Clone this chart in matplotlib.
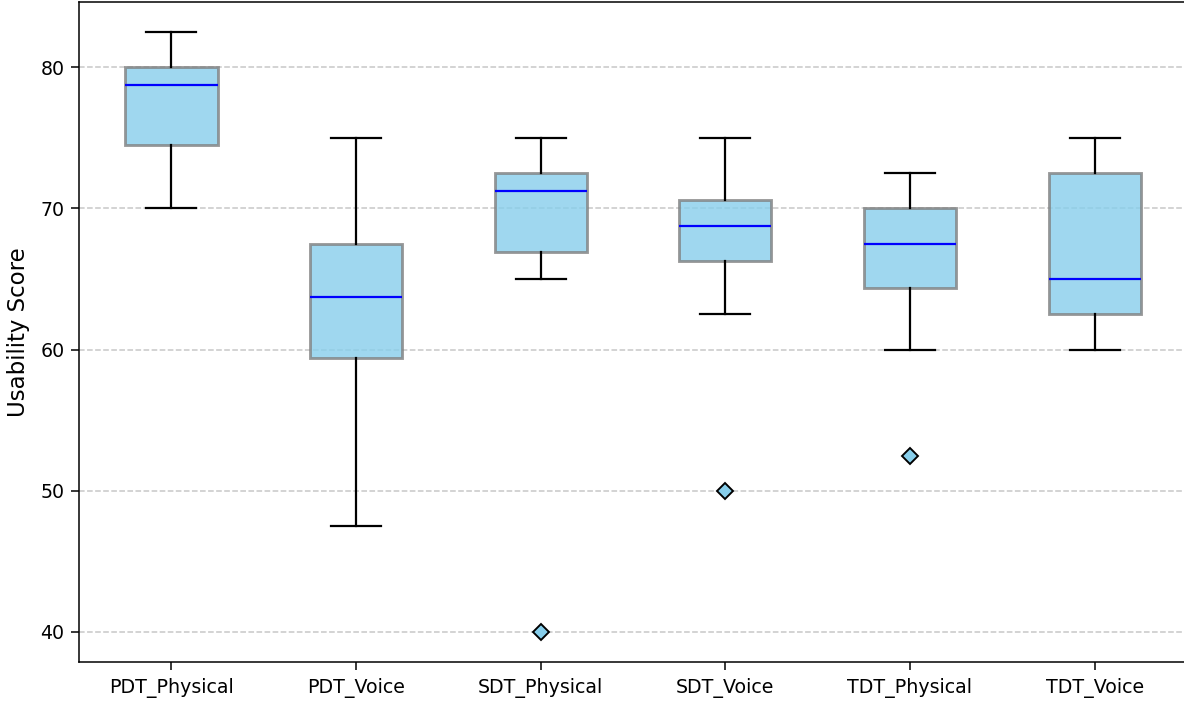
import matplotlib
matplotlib.use("Agg")
import matplotlib.pyplot as plt

categories = ["PDT_Physical", "PDT_Voice", "SDT_Physical", "SDT_Voice", "TDT_Physical", "TDT_Voice"]
whislo = [70.0, 47.5, 65.0, 62.5, 60.0, 60.0]
q1 = [74.5, 59.4, 66.9, 66.25, 64.4, 62.5]
med = [78.75, 63.75, 71.25, 68.75, 67.5, 65.0]
q3 = [80.0, 67.5, 72.5, 70.6, 70.0, 72.5]
whishi = [82.5, 75.0, 75.0, 75.0, 72.5, 75.0]
fliers = [[], [], [40.0], [50.0], [52.5], []]

stats = []
for i, name in enumerate(categories):
    stats.append(dict(label=name, whislo=whislo[i], q1=q1[i], med=med[i],
                      q3=q3[i], whishi=whishi[i], fliers=fliers[i]))

s = 1.37
fig = plt.figure(figsize=(11.84, 7.02), dpi=100)
ax = fig.add_axes([79/1184, 40/702, 1108/1184, 660/702])

ax.bxp(stats, widths=0.5, patch_artist=True, capwidths=0.27,
       boxprops=dict(facecolor="skyblue", edgecolor="gray", alpha=0.8, linewidth=1.5*s),
       medianprops=dict(color="blue", linewidth=1.6),
       whiskerprops=dict(color="black", linewidth=1.6),
       capprops=dict(color="black", linewidth=1.6),
       flierprops=dict(marker="D", markerfacecolor="skyblue", markeredgecolor="black",
                       markersize=8.5, markeredgewidth=1.0*s))

ax.set_ylabel("Usability Score", fontsize=12*s, labelpad=7)
ax.tick_params(axis="both", labelsize=10*s, length=5.5, width=0.8*s)
ax.tick_params(axis="y", pad=5)
ax.tick_params(axis="x", pad=6)
ax.yaxis.grid(True, linestyle="--", alpha=0.7, linewidth=0.8*s)
ax.set_axisbelow(True)
for sp in ax.spines.values():
    sp.set_linewidth(0.8*s)

fig.savefig("out.png", dpi=100)
